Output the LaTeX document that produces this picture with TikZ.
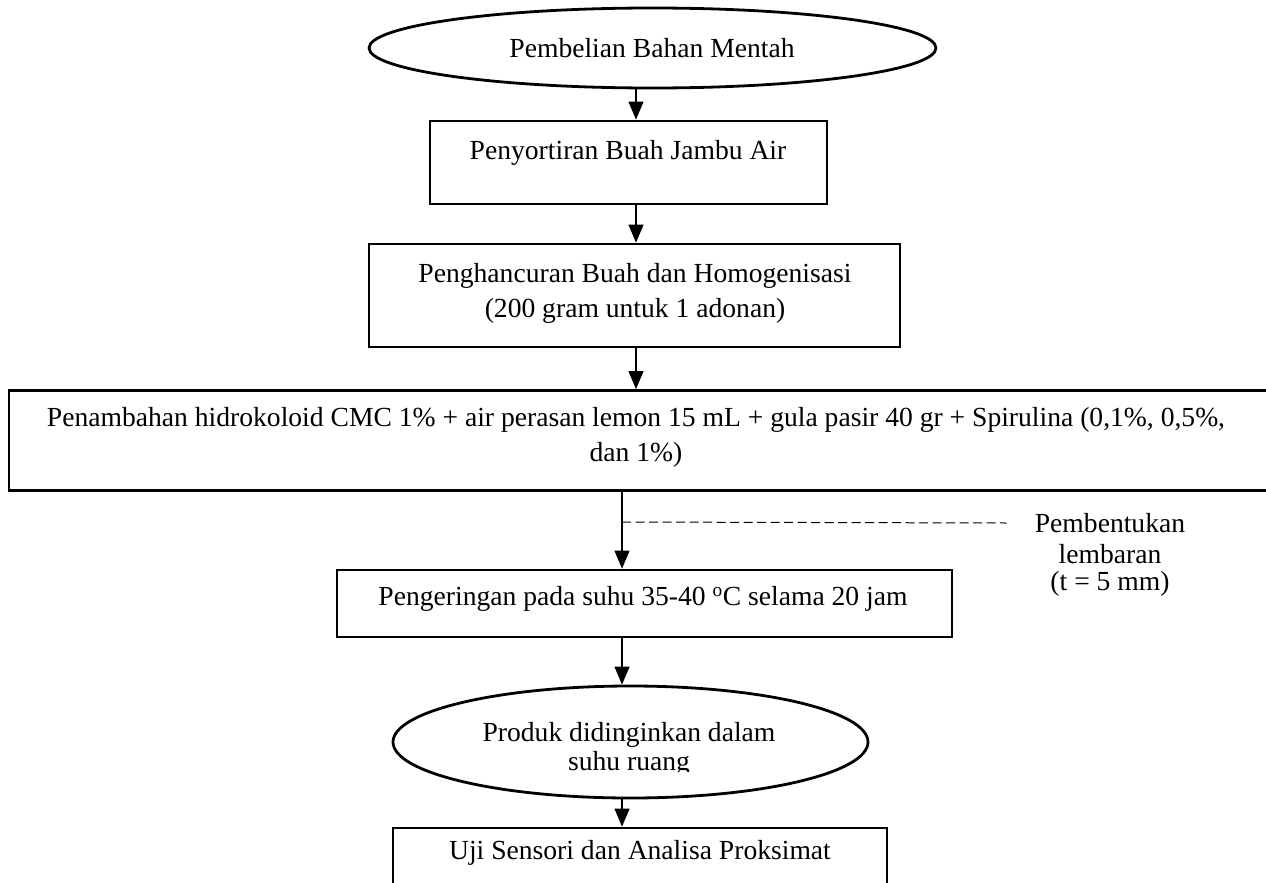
\documentclass[tikz,border=0pt]{standalone}
\usepackage{fontspec}
\setmainfont{Liberation Serif}
\usetikzlibrary{shapes.geometric,arrows.meta}
\begin{document}
\begin{tikzpicture}[x=1pt,y=-1pt,
  box/.style={draw,line width=2.8pt,rectangle,inner sep=0pt},
  oval/.style={draw,line width=2.8pt,ellipse,inner sep=0pt},
  txt/.style={font=\fontsize{27.6}{35}\selectfont,inner sep=0pt,align=center},
  flow/.style={line width=1.2pt,-{Triangle[width=15pt,length=18pt]}},
  dline/.style={line width=1pt,dash pattern=on 9pt off 4.5pt},
]
\useasboundingbox (0,0) rectangle (1266,883);
% spine coordinates
\coordinate (s) at (636,0);
\coordinate (d) at (622,522);
% nodes
\node[oval,minimum width=567pt,minimum height=80pt] (e1) at (652.5,48) {};
\node[txt] (t1) at (652,48) {Pembelian Bahan Mentah};
\node[box,minimum width=397pt,minimum height=83pt] (b2) at (628.5,162.5) {};
\node[txt] (t2) at (628,153) {Penyortiran Buah Jambu Air};
\node[box,minimum width=531pt,minimum height=103pt] (b3) at (634.5,295.5) {};
\node[txt] (t3) at (635,293) {Penghancuran Buah dan Homogenisasi\\(200 gram untuk 1 adonan)};
\node[box,minimum width=1266pt,minimum height=100pt] (b4) at (642,440.5) {};
\node[txt] (t4) at (636,437) {Penambahan hidrokoloid CMC 1\% + air perasan lemon 15 mL + gula pasir 40 gr + Spirulina (0,1\%, 0,5\%,\\dan 1\%)};
\node[box,minimum width=615pt,minimum height=67pt] (b5) at (644.5,603.5) {};
\node[txt] (t5) at (643,599) {Pengeringan pada suhu 35-40 \textsuperscript{o}C selama 20 jam};
\node[oval,minimum width=475pt,minimum height=112pt] (e6) at (630.5,742) {};
\begin{scope}
\clip (390,690) rectangle (880,771);
\node[txt,font=\fontsize{27.6}{29}\selectfont] (t6) at (629,749) {Produk didinginkan dalam\\suhu ruang};
\end{scope}
\node[box,minimum width=494pt,minimum height=80pt] (b7) at (640,868) {};
\node[txt] (t7) at (640,853) {Uji Sensori dan Analisa Proksimat};
\node[txt] (p1) at (1110,523) {Pembentukan};
\node[txt] (p2) at (1110,554) {lembaran};
\node[txt] (p3) at (1110,584) {(t = 5 mm)};
% connectors
\draw[flow] (e1.south -| s) -- (b2.north -| s);
\draw[flow] (b2.south -| s) -- (b3.north -| s);
\draw[flow] (b3.south -| s) -- (b4.north -| s);
\draw[flow] (b4.south -| d) -- (b5.north -| d);
\draw[dline] (d) -- ([xshift=-28pt]p1.west);
\draw[flow] (b5.south -| d) -- (e6.north -| d);
\draw[flow] (e6.south -| d) -- (b7.north -| d);
\end{tikzpicture}
\end{document}
